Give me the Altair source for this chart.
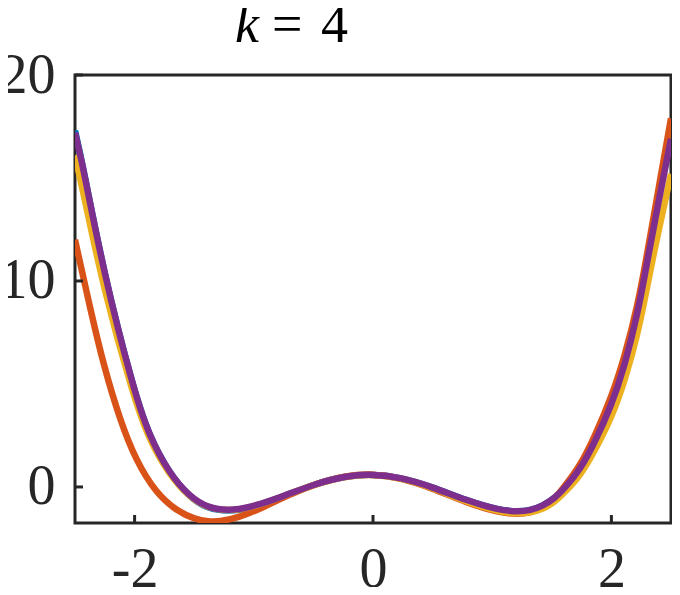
import altair as alt
import pandas as pd

# ---- data ----
grid_x = [-2.5, -2.43, -2.26, -2.01, -1.88, -1.71, -1.54, -1.38, -1.21, -1.05, -0.77,
          -0.49, -0.22, 0.0, 0.23, 0.5, 0.78, 1.06, 1.22, 1.32, 1.42, 1.52, 1.61, 1.74,
          1.86, 2.0, 2.11, 2.22, 2.29, 2.36, 2.5]
purple_y = [17.2, 15.5, 10.4, 4.75, 2.5, 0.67, -0.47, -1.03, -1.14, -1.03, -0.5,
            0.15, 0.55, 0.62, 0.47, 0.0, -0.65, -1.13, -1.2, -1.14, -0.93, -0.57, -0.05, 0.85,
            2.15, 3.95, 5.84, 8.4, 10.6, 12.8, 16.9]
blue_y = [17.3, 15.5, 10.4, 4.75, 2.5, 0.66, -0.5, -1.08, -1.18, -1.06, -0.5,
          0.15, 0.55, 0.62, 0.47, 0.0, -0.65, -1.13, -1.2, -1.14, -0.93, -0.57, -0.04, 0.87,
          2.17, 4.0, 5.9, 8.5, 10.8, 13.0, 17.2]
yellow_y = [16.1, 14.3, 9.6, 4.4, 2.3, 0.6, -0.5, -1.05, -1.15, -1.05, -0.5,
            0.14, 0.54, 0.61, 0.45, -0.03, -0.72, -1.22, -1.3, -1.25, -1.08, -0.76, -0.25, 0.55,
            1.75, 3.35, 5.1, 7.4, 9.4, 11.5, 15.2]
orange_x = [-2.5, -2.37, -2.26, -2.12, -1.99, -1.82, -1.65, -1.49, -1.38, -1.29, -1.13,
            -0.91, -0.77, -0.49, -0.22, 0.0, 0.23, 0.5, 0.78, 1.06, 1.22, 1.32, 1.42, 1.52,
            1.61, 1.74, 1.86, 2.0, 2.11, 2.22, 2.29, 2.36, 2.5]
orange_y = [12.0, 8.6, 5.9, 3.2, 1.3, -0.3, -1.15, -1.58, -1.68, -1.68, -1.5,
            -0.96, -0.55, 0.15, 0.57, 0.64, 0.45, -0.06, -0.76, -1.26, -1.33, -1.25, -1.02, -0.62,
            0.05, 1.05, 2.45, 4.35, 6.3, 8.8, 11.0, 13.3, 17.9]

x_ticks = [-2, 0, 2]
y_ticks = [0, 10, 20]
title_parts = ["k", "=", "4"]

# ---- styling ----
W, H = 596, 448
INK = "#262626"
FONT = "Liberation Serif, Times New Roman, DejaVu Serif, serif"

xscale = alt.Scale(domain=[-2.5, 2.5], nice=False, zero=False)
yscale = alt.Scale(domain=[-1.75, 20], nice=False, zero=False)

xaxis = alt.Axis(values=x_ticks, ticks=False, tickSize=0, domain=False, grid=False,
                 labelFontSize=56, labelFont=FONT, labelColor=INK, labelPadding=19,
                 labelExpr="datum.value + ''", labelFlush=False, title=None)
yaxis = alt.Axis(values=y_ticks, ticks=False, tickSize=0, domain=False, grid=False,
                 labelFontSize=56, labelFont=FONT, labelColor=INK, labelPadding=20,
                 labelFlush=False, title=None)

series = [
    (grid_x, blue_y, "#0072BD"),
    (orange_x, orange_y, "#D95319"),
    (grid_x, yellow_y, "#EDB120"),
    (grid_x, purple_y, "#7E2F8E"),
]

layers = []
for xs, ys, col in series:
    df = pd.DataFrame({"x": xs, "y": ys})
    layers.append(
        alt.Chart(df).mark_line(color=col, strokeWidth=6.5, interpolate="basis",
                                clip=True, strokeCap="butt").encode(
            x=alt.X("x:Q", scale=xscale, axis=xaxis),
            y=alt.Y("y:Q", scale=yscale, axis=yaxis),
        )
    )

xt = pd.DataFrame({"v": x_ticks})
layers.append(
    alt.Chart(xt).mark_rule(color=INK, strokeWidth=3).encode(
        x=alt.X("v:Q", scale=xscale, axis=xaxis),
        y=alt.value(H), y2=alt.value(H - 8),
    )
)
yt = pd.DataFrame({"v": y_ticks})
layers.append(
    alt.Chart(yt).mark_rule(color=INK, strokeWidth=3).encode(
        y=alt.Y("v:Q", scale=yscale, axis=yaxis),
        x=alt.value(0), x2=alt.value(8),
    )
)

title_x = [160, 197, 246]
title_style = ["italic", "normal", "normal"]
for txt, tx, st in zip(title_parts, title_x, title_style):
    layers.append(
        alt.Chart(pd.DataFrame({"t": [txt]})).mark_text(
            font=FONT, fontStyle=st, fontSize=54, align="left", baseline="alphabetic",
            color="black").encode(x=alt.value(tx), y=alt.value(-33), text="t:N")
    )

chart = alt.layer(*layers).properties(
    width=W, height=H,
    autosize=alt.AutoSizeParams(type="none"),
    padding={"left": 67, "top": 67, "right": 1, "bottom": 64},
).configure_view(stroke=INK, strokeWidth=3)

chart.save("out.html", embed_options={"renderer": "svg", "actions": False})
